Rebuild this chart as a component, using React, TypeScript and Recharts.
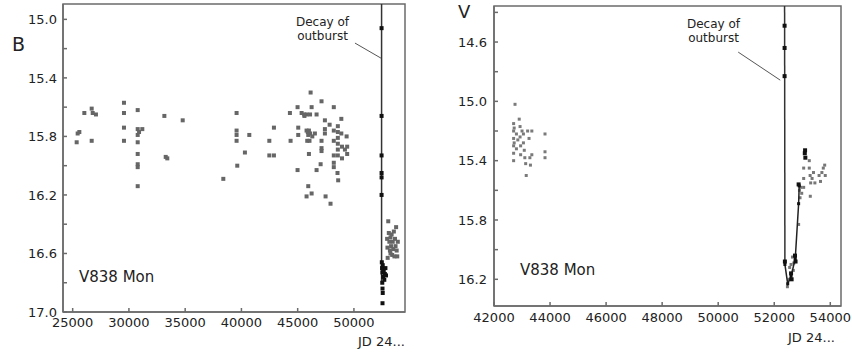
import React from "react";
import {
  ScatterChart,
  Scatter,
  XAxis,
  YAxis,
  ReferenceLine,
  ReferenceArea,
} from "recharts";

// ---- B band (left panel) ----
const bXTicks = [25000, 30000, 35000, 40000, 45000, 50000];
const bYTicks = [15.0, 15.2, 15.4, 15.6, 15.8, 16.0, 16.2, 16.4, 16.6, 16.8, 17.0];
const bYLabels = [15.0, 15.4, 15.8, 16.2, 16.6, 17.0];

const bHistoric: [number, number][] = [
  [25355, 15.84], [25444, 15.78], [25592, 15.77], [26037, 15.64], [26690, 15.61],
  [26780, 15.64], [27070, 15.65], [26690, 15.83],
  [29560, 15.57], [29560, 15.64], [29560, 15.74], [29560, 15.83],
  [30780, 15.62], [30780, 15.75], [30780, 15.79], [30780, 15.84], [31190, 15.75],
  [30900, 15.77], [30780, 15.92], [30780, 15.99], [30780, 16.01], [30780, 16.14],
  [33150, 15.66], [33270, 15.94], [33410, 15.95], [34780, 15.69],
  [38390, 16.09],
  [39570, 15.64], [39570, 15.76], [39570, 15.79], [39570, 15.83], [39630, 16.0],
  [40310, 15.91], [40700, 15.79],
  [42480, 15.83], [42480, 15.93], [42890, 15.93], [42890, 15.74],
  [44310, 15.64], [44370, 15.83], [44990, 15.6], [45050, 15.74], [45050, 15.79],
  [44990, 16.03], [45350, 15.64], [45580, 15.65], [45790, 15.65], [45790, 15.76],
  [45940, 15.79], [45850, 15.83], [45940, 16.14], [45790, 16.21], [46150, 15.5],
  [46240, 15.6], [46050, 15.83], [46240, 16.19], [46000, 15.92], [46680, 15.65],
  [46530, 15.78], [47120, 15.56], [47120, 15.83], [47120, 15.88], [47120, 15.9],
  [47040, 15.99], [46680, 16.03], [47420, 15.69], [47420, 15.75], [47420, 15.78],
  [47480, 16.21], [47840, 15.72], [47920, 16.26], [48210, 15.6], [48210, 15.76],
  [48210, 15.83], [48210, 15.93], [48210, 15.98], [48210, 16.01], [48570, 15.73],
  [48570, 15.77], [48570, 15.81], [48570, 15.85], [48570, 15.89], [48570, 15.93],
  [48540, 16.05], [48600, 16.1], [48880, 15.68], [48880, 15.78], [48940, 15.95],
  [48940, 15.87], [49200, 15.89], [49350, 15.8], [49400, 15.92], [49400, 15.87],
  [45900, 15.77], [46000, 15.76], [46100, 15.78], [46300, 15.8], [45600, 15.66],
  [46100, 15.65],
];

const bOutburst: [number, number][] = [
  [52458, 15.06], [52458, 15.66], [52458, 15.93], [52458, 16.05], [52458, 16.08],
  [52458, 16.2], [52480, 16.66], [52500, 16.7], [52530, 16.73], [52560, 16.68],
  [52600, 16.76], [52650, 16.72], [52700, 16.78], [52750, 16.74], [52800, 16.7],
  [52850, 16.75], [52520, 16.8], [52540, 16.84], [52560, 16.87], [52540, 16.94],
];

const bRecent: [number, number][] = [
  [52950, 16.5], [52980, 16.56], [53050, 16.38], [53100, 16.46], [53150, 16.52],
  [53200, 16.58], [53250, 16.49], [53300, 16.55], [53350, 16.47], [53400, 16.61],
  [53450, 16.52], [53500, 16.57], [53550, 16.45], [53600, 16.62], [53650, 16.5],
  [53700, 16.55], [53750, 16.42], [53800, 16.58], [53850, 16.62], [53900, 16.52],
  [53000, 16.63], [53250, 16.6],
];

// ---- V band (right panel) ----
const vXTicks = [42000, 44000, 46000, 48000, 50000, 52000, 54000];
const vYTicks = [14.4, 14.6, 14.8, 15.0, 15.2, 15.4, 15.6, 15.8, 16.0, 16.2];
const vYLabels = [14.6, 15.0, 15.4, 15.8, 16.2];

const vHistoric: [number, number][] = [
  [42700, 15.15], [42700, 15.2], [42700, 15.25], [42700, 15.3], [42700, 15.35],
  [42700, 15.4], [42720, 15.18], [42720, 15.28], [42750, 15.02], [42800, 15.22],
  [42800, 15.32], [42850, 15.26], [42900, 15.12], [42930, 15.17], [42930, 15.24],
  [42950, 15.3], [42950, 15.36], [43000, 15.2], [43050, 15.22], [43050, 15.28],
  [43080, 15.33], [43100, 15.38], [43130, 15.42], [43150, 15.5], [43200, 15.2],
  [43250, 15.25], [43280, 15.38], [43300, 15.43], [43350, 15.2], [43350, 15.36],
  [43820, 15.22], [43820, 15.34], [43820, 15.38],
];

const vPeak: [number, number][] = [
  [52369, 14.49], [52369, 14.64], [52369, 14.83], [52380, 16.08],
];

const vRecovery: [number, number][] = [
  [52380, 16.1], [52480, 16.23], [52600, 16.18], [52750, 16.06], [52870, 15.69],
  [52890, 15.57],
];

const vBlackOther: [number, number][] = [
  [52600, 16.16], [52620, 16.2], [52740, 16.04], [52760, 16.08], [52870, 15.56],
  [53100, 15.33], [53110, 15.38], [53090, 15.35],
];

const vRecent: [number, number][] = [
  [52470, 16.25], [52520, 16.2], [52550, 16.12], [52600, 16.1], [52650, 16.05],
  [52680, 16.14], [52700, 16.09], [52870, 15.83], [52900, 15.6], [52920, 15.65],
  [52950, 15.58], [52980, 15.62], [53050, 15.45], [53050, 15.52], [53050, 15.58],
  [53250, 15.4], [53250, 15.45], [53280, 15.5], [53300, 15.55], [53286, 15.64],
  [53350, 15.52], [53400, 15.48], [53450, 15.55], [53600, 15.5], [53650, 15.54],
  [53700, 15.48], [53750, 15.45], [53800, 15.43], [53820, 15.5],
];

const toPts = (arr: [number, number][]) => arr.map(([jd, mag]) => ({ jd, mag }));

const square = (size: number, fill: string) => (props: any) => {
  const { cx, cy } = props;
  if (cx == null || cy == null) return <g />;
  return <rect x={cx - size / 2} y={cy - size / 2} width={size} height={size} fill={fill} />;
};

const tickFont = { fill: "#222", fontSize: 13, fontFamily: "DejaVu Sans" };
const frame = "#6b6b6b";
const noteStyle: React.CSSProperties = {
  position: "absolute",
  fontFamily: "DejaVu Sans",
  color: "#222",
  whiteSpace: "nowrap",
};

const bX: [number, number] = [24140, 54540];
const bY: [number, number] = [14.895, 17.0];
const vX: [number, number] = [42000, 54382];
const vY: [number, number] = [14.357, 16.38];

export default function App() {
  return (
    <div style={{ position: "absolute", left: 0, top: 0, width: 852, height: 352, background: "#fff" }}>
      <div style={{ position: "absolute", left: 0, top: 0 }}>
        <ScatterChart width={420} height={352} margin={{ top: 4, right: 15, bottom: 0, left: 0 }}>
          <XAxis
            dataKey="jd"
            type="number"
            domain={bX}
            ticks={bXTicks}
            allowDataOverflow
            height={40}
            tickSize={-4}
            tickMargin={10}
            tick={tickFont}
            stroke={frame}
            strokeWidth={1.5}
          />
          <YAxis
            dataKey="mag"
            type="number"
            domain={bY}
            ticks={bYTicks}
            reversed
            allowDataOverflow
            width={63}
            tickSize={-4}
            tickMargin={10}
            tick={tickFont}
            tickFormatter={(v: number) => (bYLabels.some((l) => Math.abs(l - v) < 1e-6) ? v.toFixed(1) : "")}
            stroke={frame}
            strokeWidth={1.5}
          />
          <ReferenceArea x1={bX[0]} x2={bX[1]} y1={bY[0]} y2={bY[1]} fill="none" stroke={frame} strokeWidth={1.5} />
          <ReferenceLine segment={[{ x: 52458, y: bY[0] }, { x: 52458, y: 16.8 }]} stroke="#333" strokeWidth={1.5} />
          <ReferenceLine segment={[{ x: 50093, y: 15.162 }, { x: 52404, y: 15.265 }]} stroke="#555" strokeWidth={1} />
          <Scatter data={toPts(bHistoric)} shape={square(4, "#666")} isAnimationActive={false} />
          <Scatter data={toPts(bRecent)} shape={square(4, "#666")} isAnimationActive={false} />
          <Scatter data={toPts(bOutburst)} shape={square(4, "#111")} isAnimationActive={false} />
        </ScatterChart>
        <div style={{ ...noteStyle, left: 12, top: 33, fontSize: 19 }}>B</div>
        <div style={{ ...noteStyle, left: 79, top: 268, fontSize: 15 }}>V838 Mon</div>
        <div style={{ ...noteStyle, left: 296, top: 15, fontSize: 12, lineHeight: "14px", textAlign: "center" }}>
          Decay of
          <br />
          outburst
        </div>
        <div style={{ ...noteStyle, left: 358, top: 334, fontSize: 13 }}>JD 24...</div>
      </div>

      <div style={{ position: "absolute", left: 420, top: 0 }}>
        <ScatterChart width={432} height={352} margin={{ top: 6, right: 11, bottom: 0, left: 0 }}>
          <XAxis
            dataKey="jd"
            type="number"
            domain={vX}
            ticks={vXTicks}
            allowDataOverflow
            height={46}
            tickSize={-4}
            tickMargin={11}
            tick={tickFont}
            stroke={frame}
            strokeWidth={1.5}
          />
          <YAxis
            dataKey="mag"
            type="number"
            domain={vY}
            ticks={vYTicks}
            reversed
            allowDataOverflow
            width={74}
            tickSize={-4}
            tickMargin={11}
            tick={tickFont}
            tickFormatter={(v: number) => (vYLabels.some((l) => Math.abs(l - v) < 1e-6) ? v.toFixed(1) : "")}
            stroke={frame}
            strokeWidth={1.5}
          />
          <ReferenceArea x1={vX[0]} x2={vX[1]} y1={vY[0]} y2={vY[1]} fill="none" stroke={frame} strokeWidth={1.5} />
          <ReferenceLine segment={[{ x: 52369, y: vY[0] }, { x: 52380, y: 16.1 }]} stroke="#333" strokeWidth={1.5} />
          <ReferenceLine segment={[{ x: 50714, y: 14.668 }, { x: 52214, y: 14.857 }]} stroke="#555" strokeWidth={1} />
          <Scatter data={toPts(vHistoric)} shape={square(3, "#7a7a7a")} isAnimationActive={false} />
          <Scatter data={toPts(vRecent)} shape={square(3, "#777")} isAnimationActive={false} />
          <Scatter
            data={toPts(vRecovery)}
            line={{ stroke: "#222", strokeWidth: 1.5 }}
            shape={square(3, "#111")}
            isAnimationActive={false}
          />
          <Scatter data={toPts(vPeak)} shape={square(4, "#111")} isAnimationActive={false} />
          <Scatter data={toPts(vBlackOther)} shape={square(4, "#111")} isAnimationActive={false} />
        </ScatterChart>
        <div style={{ ...noteStyle, left: 38, top: 1, fontSize: 18 }}>V</div>
        <div style={{ ...noteStyle, left: 100, top: 261, fontSize: 15 }}>V838 Mon</div>
        <div style={{ ...noteStyle, left: 267, top: 17, fontSize: 12, lineHeight: "14px", textAlign: "center" }}>
          Decay of
          <br />
          outburst
        </div>
        <div style={{ ...noteStyle, left: 368, top: 330, fontSize: 13 }}>JD 24...</div>
      </div>
    </div>
  );
}
